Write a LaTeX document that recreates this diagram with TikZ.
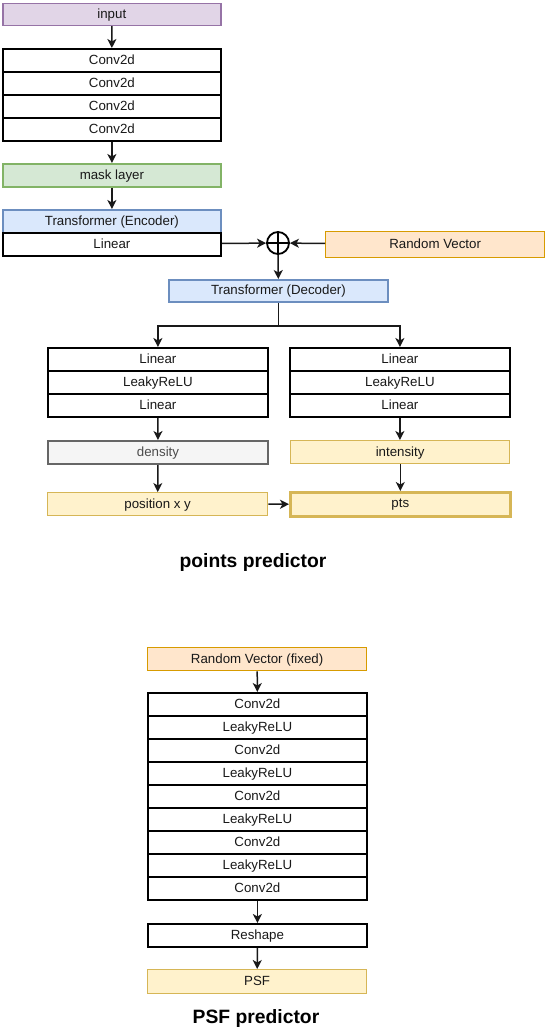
\documentclass[tikz,border=0pt]{standalone}
\usepackage{fontspec}
\setmainfont{Liberation Sans}
\usetikzlibrary{arrows.meta}
\definecolor{purpF}{HTML}{E1D5E7}\definecolor{purpD}{HTML}{9673A6}
\definecolor{grnF}{HTML}{D5E8D4}\definecolor{grnD}{HTML}{82B366}
\definecolor{bluF}{HTML}{DAE8FC}\definecolor{bluD}{HTML}{6C8EBF}
\definecolor{orgF}{HTML}{FFE6CC}\definecolor{orgD}{HTML}{D79B00}
\definecolor{yelF}{HTML}{FFF2CC}\definecolor{yelD}{HTML}{D6B656}
\definecolor{gryF}{HTML}{F5F5F5}\definecolor{gryD}{HTML}{666666}
\begin{document}
\begin{tikzpicture}[x=1pt,y=-1pt,
  base/.style={anchor=north west, inner sep=0pt, minimum width=218pt, minimum height=23pt,
    font=\fontsize{13.3}{15}\selectfont, text=black!90, text depth=0.15em},
  row/.style={base, draw=black, fill=white, line width=1.8pt},
  purp/.style={base, draw=purpD, fill=purpF, line width=1.6pt},
  grn/.style={base, draw=grnD, fill=grnF, line width=1.8pt},
  blu/.style={base, draw=bluD, fill=bluF, line width=1.8pt},
  org/.style={base, draw=orgD, fill=orgF, line width=1.3pt},
  yel/.style={base, draw=yelD, fill=yelF, line width=1.3pt},
  gry/.style={base, draw=gryD, fill=gryF, line width=2pt, text=black!70},
  arr/.style={-{Stealth[length=9pt,width=9pt,inset=2.5pt]}, line width=1.5pt, draw=black!90},
  ttl/.style={font=\bfseries\fontsize{19.3}{22}\selectfont}]
\useasboundingbox (0,0) rectangle (546,1028);

% points predictor
\node[purp, minimum height=22pt] (input) at (2,2.5) {input};
\node[row] (c1) at (2,48) {Conv2d};
\node[row] (c2) at (2,71) {Conv2d};
\node[row] (c3) at (2,94) {Conv2d};
\node[row] (c4) at (2,117) {Conv2d};
\node[grn] (mask) at (2,163) {mask layer};
\node[blu] (enc) at (2,209) {Transformer (Encoder)};
\node[row] (lin) at (2,232) {Linear};
\node[circle, draw=black, line width=1.8pt, minimum size=22pt, inner sep=0pt] (plus) at (278,243) {};
\draw[line width=1.8pt] (plus.north) -- (plus.south) (plus.west) -- (plus.east);
\node[org, minimum width=219pt, minimum height=26pt] (rv) at (325,231) {Random Vector};
\node[blu, minimum width=219pt, minimum height=22pt] (dec) at (168,279) {Transformer (Decoder)};
\node[row, minimum width=220pt] (l1) at (47,347) {Linear};
\node[row, minimum width=220pt] (l2) at (47,370) {LeakyReLU};
\node[row, minimum width=220pt] (l3) at (47,393) {Linear};
\node[row, minimum width=220pt] (r1) at (289,347) {Linear};
\node[row, minimum width=220pt] (r2) at (289,370) {LeakyReLU};
\node[row, minimum width=220pt] (r3) at (289,393) {Linear};
\node[gry, minimum width=220pt] (dens) at (47,440) {density};
\node[yel, minimum width=219pt] (inten) at (290,440) {intensity};
\node[yel, minimum width=220pt] (pos) at (47,492) {position x y};
\node[yel, minimum width=220pt, minimum height=24pt, line width=2.6pt] (pts) at (289,491) {pts};
\node[ttl] (t1) at (253,563) {points predictor};

\draw[arr] (input) -- (c1);
\draw[arr] (c4) -- (mask);
\draw[arr] (mask) -- (enc);
\draw[arr] (lin) -- (plus);
\draw[arr] (rv) -- (plus);
\draw[arr] (plus) -- (dec);
\draw[arr] (dec.south) -- ++(0,23) coordinate (br) -| (l1.north);
\draw[arr] (br) -| (r1.north);
\draw[arr] (l3) -- (dens);
\draw[arr] (dens) -- (pos);
\draw[arr] (r3.south) -- (inten.north -| r3.south);
\draw[arr] (inten.south -| pts.north) -- (pts.north);
\draw[arr] (pos) -- (pts);

% PSF predictor
\node[org, minimum width=219pt] (rvf) at (147,647) {Random Vector (fixed)};
\node[row, minimum width=219pt] (p1) at (147,692) {Conv2d};
\node[row, minimum width=219pt] (p2) at (147,715) {LeakyReLU};
\node[row, minimum width=219pt] (p3) at (147,738) {Conv2d};
\node[row, minimum width=219pt] (p4) at (147,761) {LeakyReLU};
\node[row, minimum width=219pt] (p5) at (147,784) {Conv2d};
\node[row, minimum width=219pt] (p6) at (147,807) {LeakyReLU};
\node[row, minimum width=219pt] (p7) at (147,830) {Conv2d};
\node[row, minimum width=219pt] (p8) at (147,853) {LeakyReLU};
\node[row, minimum width=219pt] (p9) at (147,876) {Conv2d};
\node[row, minimum width=219pt] (resh) at (147,923) {Reshape};
\node[yel, minimum width=219pt, minimum height=24pt] (psf) at (147,969) {PSF};
\node[ttl] (t2) at (256,1018) {PSF predictor};

\draw[arr] (rvf) -- (p1);
\draw[arr] (p9) -- (resh);
\draw[arr] (resh) -- (psf);
\end{tikzpicture}
\end{document}
